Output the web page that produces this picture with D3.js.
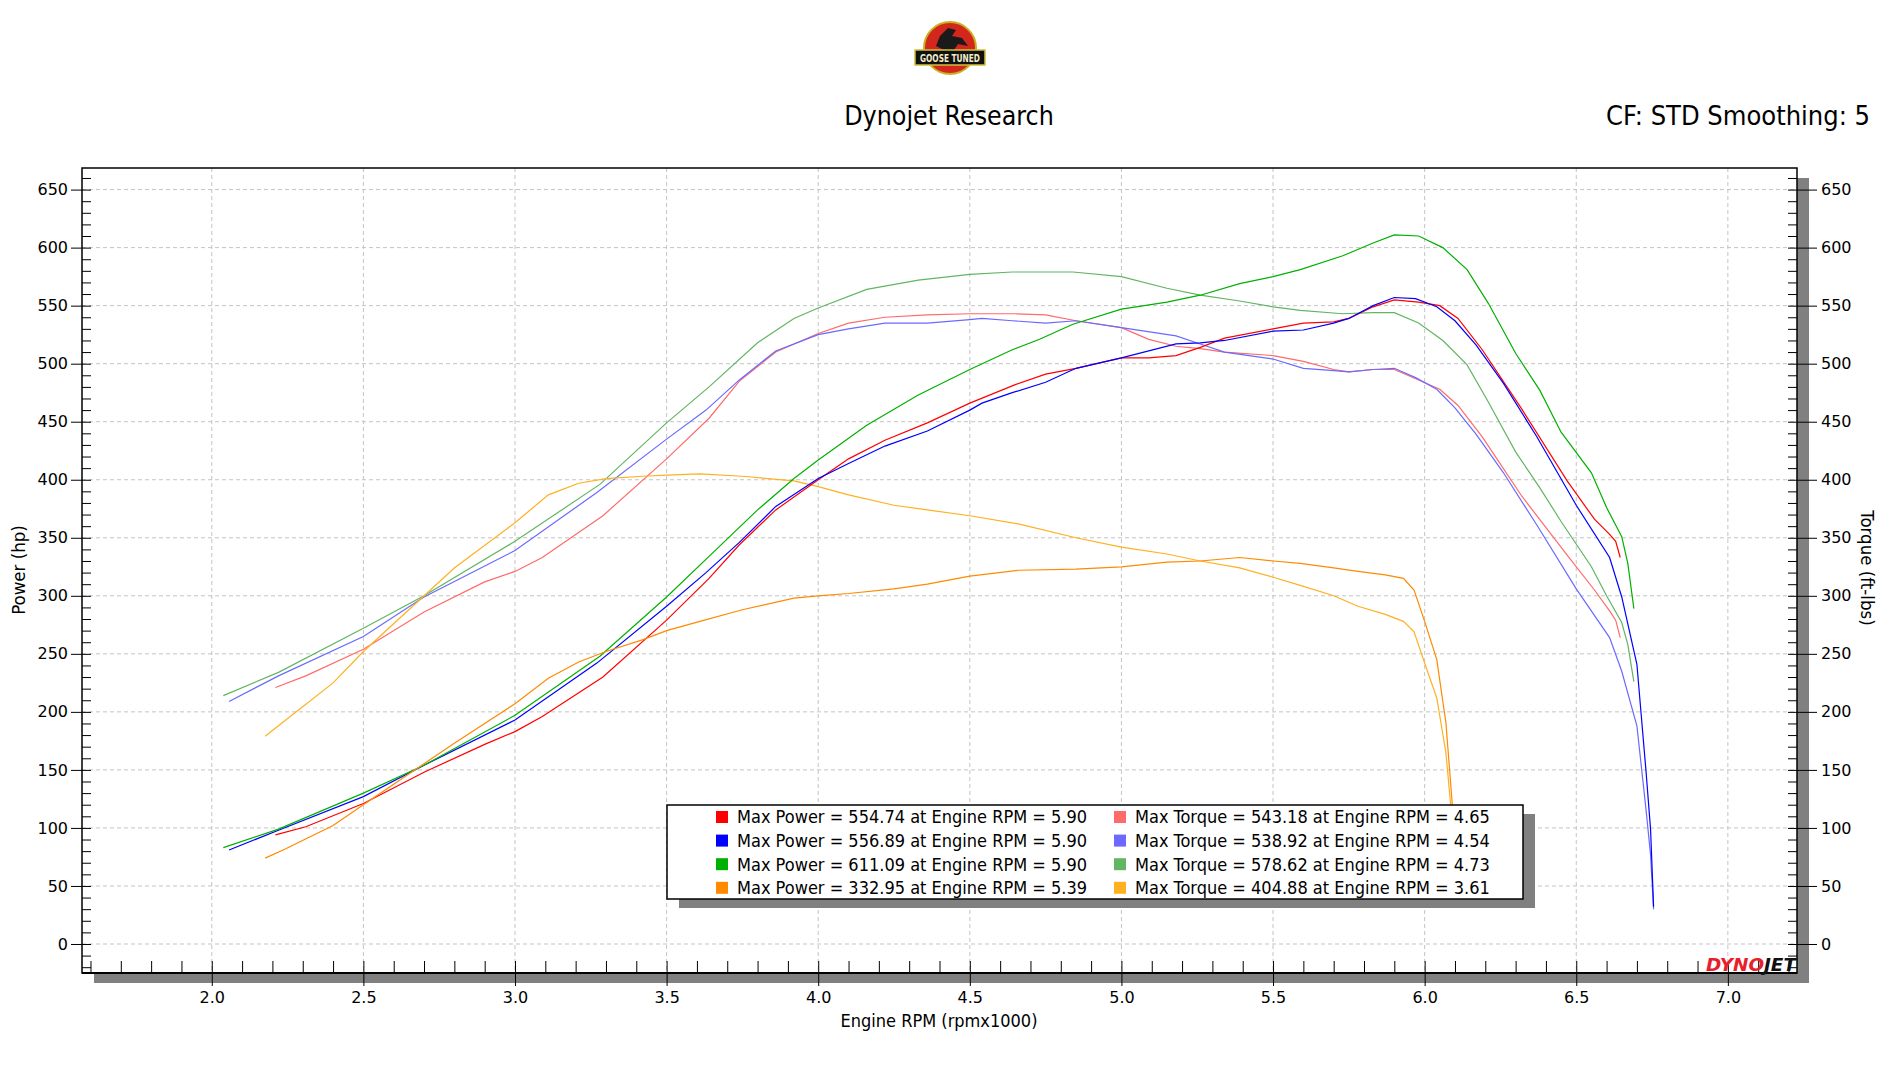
<!DOCTYPE html>
<html>
<head>
<meta charset="utf-8">
<script src="https://cdn.jsdelivr.net/npm/d3@7"></script>
<style>
  body { margin: 0; background: #fff; }
  text { font-family: 'DejaVu Sans Condensed', 'Liberation Sans', sans-serif; fill: #000; }
</style>
</head>
<body>
<svg width="1900" height="1068"></svg>
<script>
// dyno runs: engine rpm (x1000), power (hp), torque (ft-lbs)
const run1Rpm = [2.21, 2.31, 2.50, 2.70, 2.90, 3.00, 3.09, 3.29, 3.50, 3.64, 3.74, 3.86, 4.00, 4.10, 4.22, 4.36, 4.50, 4.65, 4.75, 4.85, 5.00, 5.09, 5.18, 5.26, 5.34, 5.50, 5.60, 5.70, 5.75, 5.83, 5.90, 5.98, 6.05, 6.11, 6.19, 6.32, 6.47, 6.56, 6.61, 6.63, 6.645];
const run1Power = [94, 101, 121, 148, 172, 183, 196, 230, 279, 315, 344, 374, 400, 418, 434, 449, 466, 482, 491, 496, 505, 505, 507, 514, 522, 530, 535, 536, 539, 549, 555, 553, 550, 539, 512, 461, 399, 366, 353, 347, 333];
const run1Torque = [221, 231, 254, 286, 312, 321, 333, 369, 418, 453, 485, 510, 526, 535, 540, 542, 543, 543, 542, 537, 531, 521, 515, 513, 510, 507, 502, 495, 493, 495, 495, 486, 478, 464, 437, 386, 335, 305, 287, 279, 264];

const run2Rpm = [2.057, 2.22, 2.50, 2.70, 3.00, 3.27, 3.50, 3.63, 3.74, 3.86, 4.00, 4.10, 4.22, 4.36, 4.50, 4.54, 4.64, 4.75, 4.85, 5.00, 5.18, 5.26, 5.34, 5.50, 5.60, 5.70, 5.75, 5.83, 5.90, 5.97, 6.04, 6.10, 6.17, 6.26, 6.37, 6.50, 6.61, 6.65, 6.70, 6.73, 6.745, 6.755];
const run2Power = [81, 98, 127, 154, 193, 242, 291, 320, 346, 377, 401, 414, 429, 442, 460, 466, 475, 484, 496, 505, 517, 518, 520, 528, 529, 535, 539, 550, 557, 556, 549, 537, 516, 483, 437, 378, 333, 299, 241, 149, 99, 32];
const run2Torque = [209, 231, 265, 299, 339, 389, 435, 460, 486, 511, 525, 530, 535, 535, 538, 539, 537, 535, 537, 531, 524, 517, 510, 504, 496, 494, 493, 495, 496, 488, 478, 462, 439, 406, 361, 306, 264, 235, 188, 116, 77, 30];

const run3Rpm = [2.038, 2.22, 2.50, 2.70, 3.00, 3.28, 3.50, 3.64, 3.80, 3.92, 4.00, 4.16, 4.33, 4.50, 4.64, 4.73, 4.84, 5.00, 5.15, 5.26, 5.39, 5.50, 5.59, 5.73, 5.83, 5.90, 5.98, 6.06, 6.14, 6.21, 6.30, 6.38, 6.45, 6.55, 6.60, 6.65, 6.67, 6.69];
const run3Power = [83, 99, 130, 154, 197, 248, 299, 334, 374, 401, 417, 447, 473, 495, 512, 521, 534, 547, 553, 559, 569, 575, 581, 593, 604, 611, 610, 600, 581, 552, 509, 477, 441, 406, 376, 351, 328, 289];
const run3Torque = [214, 234, 272, 300, 347, 396, 449, 480, 518, 539, 548, 564, 572, 577, 579, 579, 579, 575, 565, 559, 554, 549, 546, 543, 544, 544, 535, 520, 499, 467, 424, 393, 364, 325, 300, 277, 258, 226];

const run4Rpm = [2.176, 2.244, 2.40, 2.50, 2.80, 3.00, 3.11, 3.21, 3.30, 3.42, 3.50, 3.61, 3.75, 3.92, 4.00, 4.10, 4.25, 4.36, 4.50, 4.66, 4.85, 5.00, 5.15, 5.26, 5.39, 5.50, 5.59, 5.70, 5.78, 5.87, 5.93, 5.965, 6.00, 6.04, 6.07, 6.09, 6.11];
const run4Power = [74, 82, 102, 120, 173, 207, 229, 243, 252, 262, 270, 278, 288, 298, 300, 302, 306, 310, 317, 322, 323, 325, 329, 330, 333, 330, 328, 324, 321, 318, 315, 305, 278, 245, 191, 124, 60];
const run4Torque = [179, 193, 225, 252, 324, 363, 387, 397, 401, 403, 404, 405, 403, 399, 394, 387, 378, 374, 369, 362, 350, 342, 336, 330, 324, 316, 309, 300, 291, 284, 278, 269, 242, 212, 165, 108, 52];

// legend figures as printed on the sheet
const maxPower = [554.74, 556.89, 611.09, 332.95];
const maxPowerRpm = [5.90, 5.90, 5.90, 5.39];
const maxTorque = [543.18, 538.92, 578.62, 404.88];
const maxTorqueRpm = [4.65, 4.54, 4.73, 3.61];

const powerTicks = [0, 50, 100, 150, 200, 250, 300, 350, 400, 450, 500, 550, 600, 650];
const torqueTicks = [0, 50, 100, 150, 200, 250, 300, 350, 400, 450, 500, 550, 600, 650];
const rpmTicks = [2.0, 2.5, 3.0, 3.5, 4.0, 4.5, 5.0, 5.5, 6.0, 6.5, 7.0];

const powerColors = ['#ff0000', '#0000ff', '#00b000', '#ff8a00'];
const torqueColors = ['#ff6a6a', '#6a6aff', '#62b562', '#ffb020'];

const svg = d3.select('svg');

const width = +svg.attr('width');
const height = +svg.attr('height');

const plot = { left: 82, right: 1797, top: 168, bottom: 973 };

const x = d3.scaleLinear()
    .domain([1.572, 7.228])
    .range([plot.left, plot.right]);

const y = d3.scaleLinear()
    .domain([-25, 668.6])
    .range([plot.bottom, plot.top]);

svg.append('rect')
    .attr('width', width)
    .attr('height', height)
    .attr('fill', '#fff');

// header: shop logo + titles
const logo = svg.append('g')
    .attr('transform', 'translate(950, 48)');

logo.append('circle')
    .attr('r', 26)
    .attr('fill', '#d3261c')
    .attr('stroke', '#c9b21e')
    .attr('stroke-width', 2);

logo.append('path')
    .attr('d', 'M-14,-2 L-10,-12 L-2,-20 L6,-18 L2,-12 L12,-10 L18,-2 L8,-4 L4,2 L-6,2 Z')
    .attr('fill', '#1a1a1a');

logo.append('rect')
    .attr('x', -35)
    .attr('y', 2)
    .attr('width', 70)
    .attr('height', 15)
    .attr('fill', '#111')
    .attr('stroke', '#cfc03a')
    .attr('stroke-width', 1.5);

logo.append('text')
    .attr('x', 0)
    .attr('y', 14)
    .attr('text-anchor', 'middle')
    .attr('font-size', 11)
    .attr('font-weight', 'bold')
    .attr('textLength', 60)
    .attr('lengthAdjust', 'spacingAndGlyphs')
    .style('fill', '#f3ecc8')
    .text('GOOSE TUNED');

svg.append('text')
    .attr('x', 949)
    .attr('y', 125)
    .attr('text-anchor', 'middle')
    .attr('font-size', 26.5)
    .text('Dynojet Research');

svg.append('text')
    .attr('x', 1870)
    .attr('y', 125)
    .attr('text-anchor', 'end')
    .attr('font-size', 27)
    .text('CF: STD Smoothing: 5');

// plot frame with its drop shadow
svg.append('rect')
    .attr('x', plot.left + 12)
    .attr('y', plot.top + 10)
    .attr('width', plot.right - plot.left)
    .attr('height', plot.bottom - plot.top)
    .attr('fill', '#808080');

svg.append('rect')
    .attr('x', plot.left)
    .attr('y', plot.top)
    .attr('width', plot.right - plot.left)
    .attr('height', plot.bottom - plot.top)
    .attr('fill', '#fff');

const grid = svg.append('g')
    .attr('stroke', '#c4c4c4')
    .attr('stroke-dasharray', '4,3')
    .attr('stroke-width', 1);

grid.selectAll('.hgrid')
    .data(powerTicks)
    .join('line')
    .attr('x1', plot.left)
    .attr('x2', plot.right)
    .attr('y1', d => y(d))
    .attr('y2', d => y(d));

grid.selectAll('.vgrid')
    .data(rpmTicks)
    .join('line')
    .attr('x1', d => x(d))
    .attr('x2', d => x(d))
    .attr('y1', plot.top)
    .attr('y2', plot.bottom);

// axes
const minorPower = d3.range(-20, 661, 10);
const minorRpm = d3.range(16, 73).map(d => d / 10);

const styleAxis = g => {
    g.select('.domain').remove();
    g.selectAll('line').attr('stroke', '#000');
    g.selectAll('text')
        .attr('font-size', 16)
        .style('font-family', "'DejaVu Sans', Verdana, sans-serif");
};

svg.append('g')
    .attr('transform', `translate(${plot.left}, 0)`)
    .call(d3.axisRight(y).tickValues(minorPower).tickSize(9).tickFormat(''))
    .call(styleAxis);

svg.append('g')
    .attr('transform', `translate(${plot.left}, 0)`)
    .call(d3.axisLeft(y).tickValues(powerTicks).tickSize(11).tickPadding(3))
    .call(styleAxis);

svg.append('g')
    .attr('transform', `translate(${plot.right}, 0)`)
    .call(d3.axisLeft(y).tickValues(minorPower).tickSize(9).tickFormat(''))
    .call(styleAxis);

svg.append('g')
    .attr('transform', `translate(${plot.right}, 0)`)
    .call(d3.axisRight(y).tickValues(torqueTicks).tickSize(20).tickPadding(4))
    .call(styleAxis);

svg.append('g')
    .attr('transform', `translate(0, ${plot.bottom})`)
    .call(d3.axisTop(x).tickValues(minorRpm).tickSize(12).tickFormat(''))
    .call(styleAxis);

svg.append('g')
    .attr('transform', `translate(0, ${plot.bottom})`)
    .call(d3.axisBottom(x).tickValues(rpmTicks).tickSize(13).tickPadding(6).tickFormat(d3.format('.1f')))
    .call(styleAxis);

svg.append('rect')
    .attr('x', plot.left)
    .attr('y', plot.top)
    .attr('width', plot.right - plot.left)
    .attr('height', plot.bottom - plot.top)
    .attr('fill', 'none')
    .attr('stroke', '#000')
    .attr('stroke-width', 1.5);

svg.append('line')
    .attr('x1', plot.left)
    .attr('x2', plot.right)
    .attr('y1', plot.bottom)
    .attr('y2', plot.bottom)
    .attr('stroke', '#000')
    .attr('stroke-width', 2);

svg.append('text')
    .attr('x', 939)
    .attr('y', 1027)
    .attr('text-anchor', 'middle')
    .attr('font-size', 18)
    .text('Engine RPM (rpmx1000)');

svg.append('text')
    .attr('transform', 'translate(25, 570) rotate(-90)')
    .attr('text-anchor', 'middle')
    .attr('font-size', 18.5)
    .text('Power (hp)');

svg.append('text')
    .attr('transform', 'translate(1861, 568) rotate(90)')
    .attr('text-anchor', 'middle')
    .attr('font-size', 18.5)
    .text('Torque (ft-lbs)');

// curves
svg.append('clipPath')
    .attr('id', 'plot-clip')
  .append('rect')
    .attr('x', plot.left)
    .attr('y', plot.top)
    .attr('width', plot.right - plot.left)
    .attr('height', plot.bottom - plot.top);

const runs = [
    { rpm: run1Rpm, power: run1Power, torque: run1Torque },
    { rpm: run2Rpm, power: run2Power, torque: run2Torque },
    { rpm: run3Rpm, power: run3Power, torque: run3Torque },
    { rpm: run4Rpm, power: run4Power, torque: run4Torque }
];

const line = d3.line()
    .x(d => x(d[0]))
    .y(d => y(d[1]));

const curves = svg.append('g')
    .attr('clip-path', 'url(#plot-clip)')
    .attr('fill', 'none')
    .attr('stroke-width', 1.2);

runs.forEach((run, i) => {
    curves.append('path')
        .attr('d', line(run.rpm.map((r, j) => [r, run.torque[j]])))
        .attr('stroke', torqueColors[i]);
});

runs.forEach((run, i) => {
    curves.append('path')
        .attr('d', line(run.rpm.map((r, j) => [r, run.power[j]])))
        .attr('stroke', powerColors[i]);
});

// dynojet mark
const brand = svg.append('text')
    .attr('x', 1796)
    .attr('y', 971)
    .attr('text-anchor', 'end')
    .attr('font-size', 17)
    .attr('font-weight', 'bold')
    .attr('font-style', 'italic')
    .attr('textLength', 90)
    .attr('lengthAdjust', 'spacingAndGlyphs');

brand.append('tspan').style('fill', '#e8202c').text('DYNO');
brand.append('tspan').style('fill', '#111').text('JET');

// legend
const legend = svg.append('g')
    .attr('transform', 'translate(667, 805)');

legend.append('rect')
    .attr('x', 12)
    .attr('y', 9)
    .attr('width', 856)
    .attr('height', 94)
    .attr('fill', '#808080');

legend.append('rect')
    .attr('width', 856)
    .attr('height', 94)
    .attr('fill', '#fff')
    .attr('stroke', '#000')
    .attr('stroke-width', 1.5);

const legendRow = i => 12 + i * 23.6;

const powerItems = legend.selectAll('.power-item')
    .data(maxPower)
    .join('g')
    .attr('transform', (d, i) => `translate(49, ${legendRow(i)})`);

powerItems.append('rect')
    .attr('y', -6)
    .attr('width', 12)
    .attr('height', 12)
    .attr('fill', (d, i) => powerColors[i]);

powerItems.append('text')
    .attr('x', 21)
    .attr('dy', '0.36em')
    .attr('font-size', 18)
    .text((d, i) => `Max Power = ${d.toFixed(2)} at Engine RPM = ${maxPowerRpm[i].toFixed(2)}`);

const torqueItems = legend.selectAll('.torque-item')
    .data(maxTorque)
    .join('g')
    .attr('transform', (d, i) => `translate(447, ${legendRow(i)})`);

torqueItems.append('rect')
    .attr('y', -6)
    .attr('width', 12)
    .attr('height', 12)
    .attr('fill', (d, i) => torqueColors[i]);

torqueItems.append('text')
    .attr('x', 21)
    .attr('dy', '0.36em')
    .attr('font-size', 18)
    .text((d, i) => `Max Torque = ${d.toFixed(2)} at Engine RPM = ${maxTorqueRpm[i].toFixed(2)}`);
</script>
</body>
</html>
